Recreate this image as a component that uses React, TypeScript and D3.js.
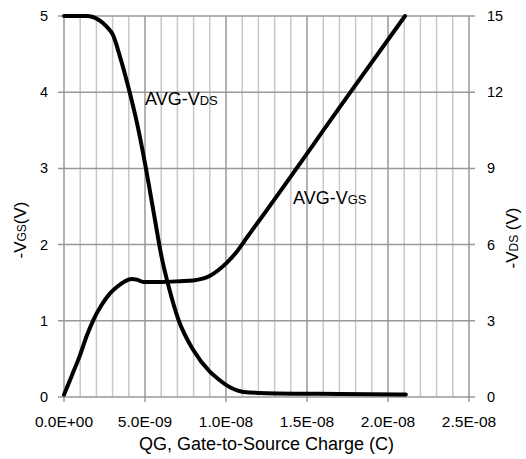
import React from "react";
import * as d3 from "d3";

// Data (charge in units of 1e-9 C)
const vdsQ = [0, 1.4, 2.94, 3.5, 3.97, 4.5, 5.0, 5.5, 6.03, 6.5, 7.06, 7.98, 9.0, 9.5, 10.25, 11.07, 12.5, 17.0, 21.1];
const vdsV = [15, 15, 14.35, 13.3, 12.2, 10.8, 9.2, 7.4, 5.5, 4.25, 3.05, 1.85, 1.0, 0.72, 0.38, 0.2, 0.15, 0.12, 0.1];
const vgsQ = [0, 0.5, 0.99, 1.4, 1.81, 2.3, 2.84, 3.3, 3.77, 4.18, 4.5, 4.9, 5.93, 7.16, 7.98, 9.01, 9.5, 10.04, 10.6, 11.28, 12.1, 17.65, 21.05];
const vgsV = [0.03, 0.29, 0.55, 0.8, 1.01, 1.2, 1.36, 1.45, 1.52, 1.55, 1.54, 1.51, 1.51, 1.52, 1.53, 1.59, 1.66, 1.76, 1.89, 2.09, 2.33, 3.99, 5.0];
const xTickLabels = ["0.0E+00", "5.0E-09", "1.0E-08", "1.5E-08", "2.0E-08", "2.5E-08"];
const leftTicks = [0, 1, 2, 3, 4, 5];
const rightTicks = [0, 3, 6, 9, 12, 15];

const W = 526, H = 459;
const L = 64, R = 469, T = 16, B = 397;

export default function App() {
  const x = d3.scaleLinear().domain([0, 25]).range([L, R]);
  const yL = d3.scaleLinear().domain([0, 5]).range([B, T]);
  const yR = d3.scaleLinear().domain([0, 15]).range([B, T]);
  const minor = d3.range(0, 26);
  const lineVds = d3.line<number>().x((_, i) => x(vdsQ[i])).y((d) => yR(d)).curve(d3.curveMonotoneX);
  const lineVgs = d3.line<number>().x((_, i) => x(vgsQ[i])).y((d) => yL(d)).curve(d3.curveMonotoneX);
  const tickFont = "Liberation Sans, Arial, sans-serif";
  return (
    <svg width={W} height={H} style={{ position: "absolute", left: 0, top: 0, background: "#fff" }}>
      {minor.filter((m) => m % 5 !== 0).map((m) => (
        <line key={"mn" + m} x1={x(m)} x2={x(m)} y1={T} y2={B} stroke="#c8c8c8" strokeWidth={1.5} />
      ))}
      {minor.filter((m) => m % 5 === 0).map((m) => (
        <line key={"mj" + m} x1={x(m)} x2={x(m)} y1={T} y2={B + 5} stroke="#999" strokeWidth={1.5} />
      ))}
      {leftTicks.map((t) => (
        <line key={"h" + t} x1={L - 6} x2={R + 6} y1={yL(t)} y2={yL(t)} stroke="#999" strokeWidth={1.5} />
      ))}
      {leftTicks.map((t) => (
        <text key={"lt" + t} x={L - 16} y={yL(t)} dy="0.35em" textAnchor="end" fontFamily={tickFont} fontSize={14.5} fill="#000">{t}</text>
      ))}
      {rightTicks.map((t) => (
        <text key={"rt" + t} x={R + 18} y={yR(t)} dy="0.35em" textAnchor="start" fontFamily={tickFont} fontSize={14.5} fill="#000">{t}</text>
      ))}
      {xTickLabels.map((lab, i) => (
        <text key={"xt" + i} x={x(i * 5)} y={427} textAnchor="middle" fontFamily={tickFont} fontSize={15.5} fill="#000">{lab}</text>
      ))}
      <text x={(L + R) / 2} y={450} textAnchor="middle" fontFamily={tickFont} fontSize={18} fill="#000">QG, Gate-to-Source Charge (C)</text>
      <text transform="translate(26,230) rotate(-90)" textAnchor="middle" fontFamily={tickFont} fontSize={17} fill="#000">
        -V<tspan fontSize={12}>GS</tspan>(V)
      </text>
      <text transform="translate(518,238) rotate(-90)" textAnchor="middle" fontFamily={tickFont} fontSize={17} fill="#000">
        -V<tspan fontSize={12}>DS</tspan> (V)
      </text>
      <path d={lineVds(vdsV) || ""} fill="none" stroke="#000" strokeWidth={4} strokeLinejoin="round" strokeLinecap="round" />
      <path d={lineVgs(vgsV) || ""} fill="none" stroke="#000" strokeWidth={4} strokeLinejoin="round" strokeLinecap="round" />
      <text x={145} y={105} fontFamily={tickFont} fontSize={18} fill="#000">
        AVG-V<tspan fontSize={13}>DS</tspan>
      </text>
      <text x={293} y={204} fontFamily={tickFont} fontSize={18} fill="#000">
        AVG-V<tspan fontSize={13}>GS</tspan>
      </text>
    </svg>
  );
}
